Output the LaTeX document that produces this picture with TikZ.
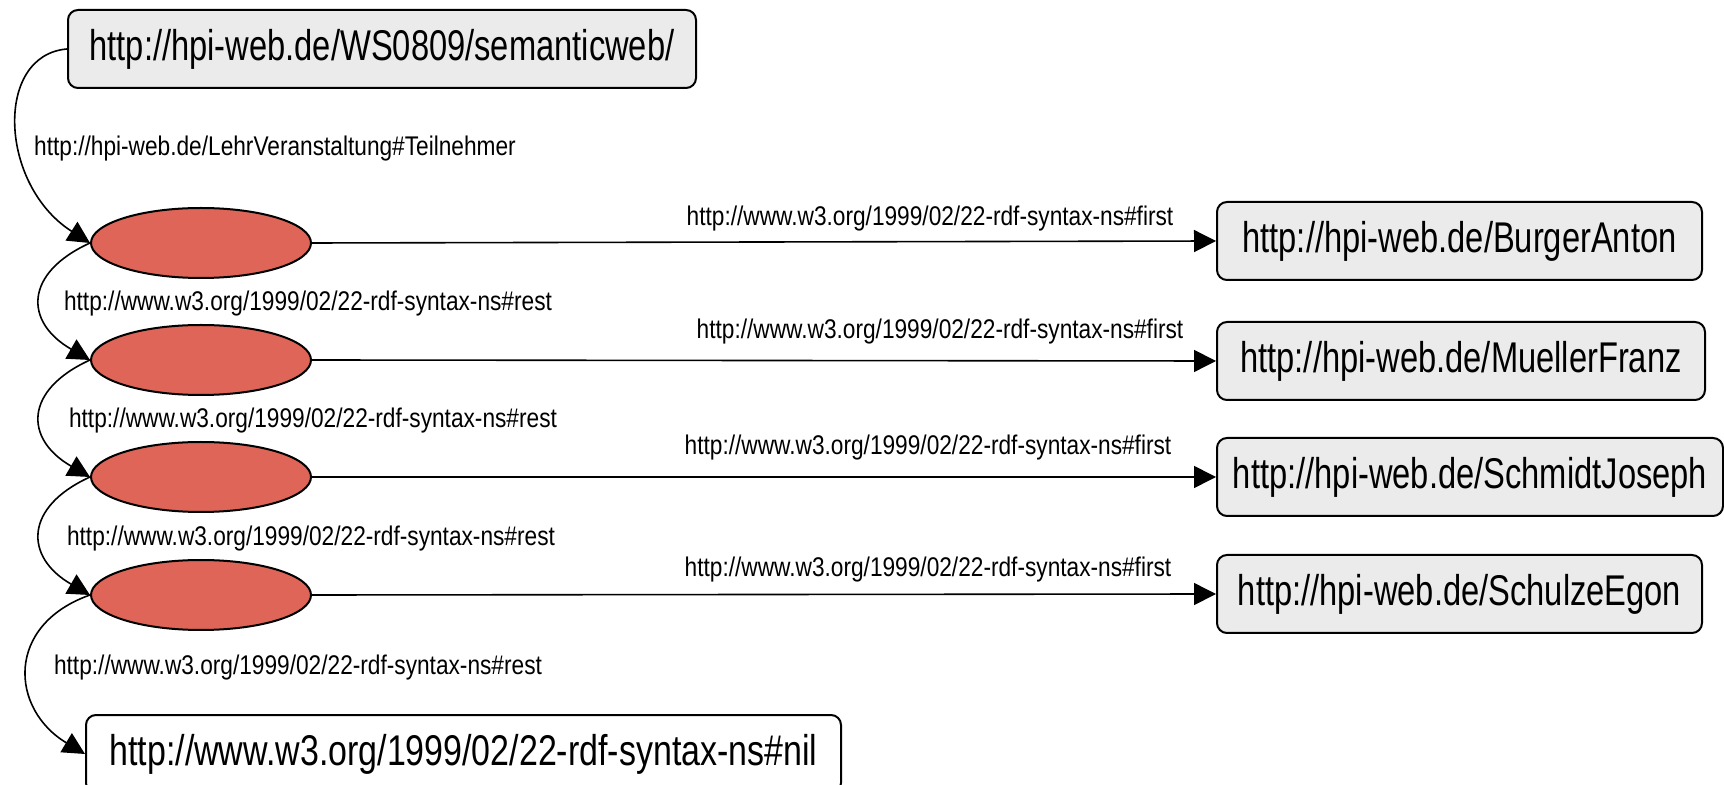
\documentclass[tikz,border=0pt]{standalone}
\usepackage{fontspec}
\setmainfont{Liberation Sans}
\newfontfamily\bigfont[FakeStretch=0.76]{Liberation Sans}
\newfontfamily\nilfont[FakeStretch=0.79]{Liberation Sans}
\newfontfamily\smallfont[FakeStretch=0.84]{Liberation Sans}
\usetikzlibrary{arrows.meta,shapes.geometric}
\definecolor{boxgray}{RGB}{235,235,235}
\definecolor{blank}{RGB}{222,101,88}
\begin{document}
\begin{tikzpicture}[x=0.5pt,y=-0.5pt,
  resbox/.style={draw=black,line width=1pt,fill=boxgray,rounded corners=5pt,
    minimum height=39pt,inner sep=0pt,font=\bigfont\fontsize{21.5pt}{24pt}\selectfont},
  litbox/.style={resbox,fill=white,font=\nilfont\fontsize{21.5pt}{24pt}\selectfont},
  bnode/.style={draw=black,line width=1pt,fill=blank,ellipse,minimum width=110pt,
    minimum height=35pt,inner sep=0pt},
  elabel/.style={inner sep=0pt,font=\smallfont\fontsize{13.5pt}{15pt}\selectfont},
  conn/.style={line width=0.8pt,-{Triangle[length=11pt,width=11pt]}}]
\useasboundingbox (0,0) rectangle (1724,785);
% nodes
\node[resbox,minimum width=314pt] (top) at (382,49) {http://hpi-web.de/WS0809/semanticweb/};
\node[bnode] (e1) at (201,243) {};
\node[bnode] (e2) at (201,360) {};
\node[bnode] (e3) at (201,477) {};
\node[bnode] (e4) at (201,595) {};
\node[resbox,minimum width=242.5pt] (burger) at (1459.5,241) {http://hpi-web.de/BurgerAnton};
\node[resbox,minimum width=244pt] (mueller) at (1461,361) {http://hpi-web.de/MuellerFranz};
\node[resbox,minimum width=253pt] (schmidt) at (1470,477) {http://hpi-web.de/SchmidtJoseph};
\node[resbox,minimum width=242.5pt] (schulze) at (1459.5,594) {http://hpi-web.de/SchulzeEgon};
\node[litbox,minimum width=377.5pt] (nil) at (463.5,754) {http://www.w3.org/1999/02/22-rdf-syntax-ns\#nil};
% labels
\node[elabel] (lt) at (275,149) {http://hpi-web.de/LehrVeranstaltung\#Teilnehmer};
\node[elabel] (f1) at (930,219) {http://www.w3.org/1999/02/22-rdf-syntax-ns\#first};
\node[elabel] (f2) at (940,332) {http://www.w3.org/1999/02/22-rdf-syntax-ns\#first};
\node[elabel] (f3) at (928,448) {http://www.w3.org/1999/02/22-rdf-syntax-ns\#first};
\node[elabel] (f4) at (928,570) {http://www.w3.org/1999/02/22-rdf-syntax-ns\#first};
\node[elabel] (r1) at (308,304) {http://www.w3.org/1999/02/22-rdf-syntax-ns\#rest};
\node[elabel] (r2) at (313,421) {http://www.w3.org/1999/02/22-rdf-syntax-ns\#rest};
\node[elabel] (r3) at (311,539) {http://www.w3.org/1999/02/22-rdf-syntax-ns\#rest};
\node[elabel] (r4) at (298,668) {http://www.w3.org/1999/02/22-rdf-syntax-ns\#rest};
% connectors
\draw[conn] (top.west) .. controls +(-73,6) and +(-91,-58) .. (e1.west);
\draw[conn] (e1.west) .. controls +(-66,30) and +(-66,-38) .. (e2.west);
\draw[conn] (e2.west) .. controls +(-66,30) and +(-66,-38) .. (e3.west);
\draw[conn] (e3.west) .. controls +(-66,30) and +(-66,-38) .. (e4.west);
\draw[conn] (e4.west) .. controls +(-85,30) and +(-75,-45) .. (nil.west);
\draw[conn] (e1.east) -- (burger.west);
\draw[conn] (e2.east) -- (mueller.west);
\draw[conn] (e3.east) -- (schmidt.west);
\draw[conn] (e4.east) -- (schulze.west);
\end{tikzpicture}
\end{document}
